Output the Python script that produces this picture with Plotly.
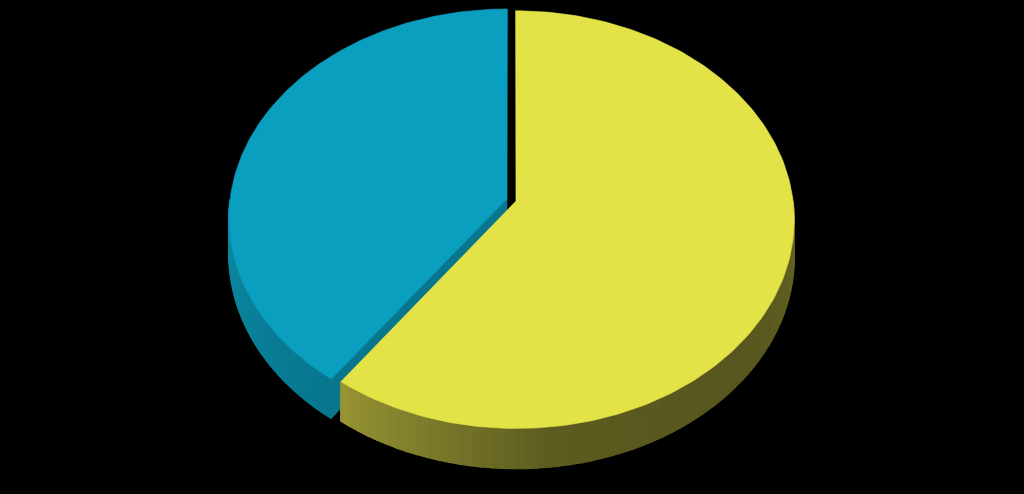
import numpy as np
import plotly.graph_objects as go

# slice values, clockwise from 12 o'clock
values = [60, 40]
top_colors = ["#E3E247", "#0A9EBF"]
# side wall shading (start, middle, end of the visible wall)
wall_colors = [
    [(101, 100, 36), (86, 86, 30), (92, 92, 32), (150, 148, 52)],
    [(8, 118, 142), (10, 128, 152), (12, 138, 163)],
]
radial_face_colors = [None, (8, 118, 140)]

# geometry of the tilted disc (screen pixels)
CX, CY = 511.5, 200.0
R, RY = 277.0, 207.0
K = 0.0887       # perspective strength
DEPTH = 36.5     # thickness
EXPLODE = 0.017  # offset of each slice


def proj(u, v, z=0.0):
    s = 1.0 / (1.0 - K * v)
    return CX + R * u * s, CY + RY * v * s + DEPTH * z * s


def point(theta, off, r=1.0, z=0.0):
    u = r * np.sin(theta) + off[0]
    v = -r * np.cos(theta) + off[1]
    return proj(u, v, z)


def lerp_color(stops, t):
    t = min(max(t, 0.0), 1.0) * (len(stops) - 1)
    i = min(int(t), len(stops) - 2)
    f = t - i
    c = [stops[i][j] * (1 - f) + stops[i + 1][j] * f for j in range(3)]
    return "rgb(%d,%d,%d)" % tuple(round(x) for x in c)


def poly(fig, xs, ys, color, lw=0.6):
    fig.add_trace(go.Scatter(
        x=list(xs) + [xs[0]], y=list(ys) + [ys[0]], mode="lines",
        fill="toself", fillcolor=color, line=dict(color=color, width=lw),
        hoverinfo="skip", showlegend=False,
    ))


fig = go.Figure()

total = sum(values)
bounds = np.cumsum([0] + values) / total * 2 * np.pi
slices = []
for i in range(len(values)):
    a0, a1 = bounds[i], bounds[i + 1]
    mid = (a0 + a1) / 2
    off = (EXPLODE * np.sin(mid), -EXPLODE * np.cos(mid))
    slices.append((a0, a1, off))

# draw back slice (blue) first, then the front one (yellow)
for i in [1, 0]:
    a0, a1, off = slices[i]
    # visible outer wall: front half (pi/2 .. 3pi/2)
    w0, w1 = max(a0, np.pi / 2), min(a1, 3 * np.pi / 2)
    if w1 > w0:
        n = 60
        th = np.linspace(w0, w1, n + 1)
        for j in range(n):
            p = [point(th[j], off), point(th[j + 1], off),
                 point(th[j + 1], off, z=1), point(th[j], off, z=1)]
            col = lerp_color(wall_colors[i], (j + 0.5) / n)
            poly(fig, [q[0] for q in p], [q[1] for q in p], col, lw=1.5)
    # radial cut face at the start angle, visible when it faces the viewer
    if radial_face_colors[i] is not None:
        c = "rgb(%d,%d,%d)" % radial_face_colors[i]
        p = [point(a0, off, r=0), point(a0, off), point(a0, off, z=1), point(a0, off, r=0, z=1)]
        poly(fig, [q[0] for q in p], [q[1] for q in p], c)
    # top face
    th = np.linspace(a0, a1, 200)
    pts = [point(0, off, r=0)] + [point(t, off) for t in th]
    poly(fig, [q[0] for q in pts], [q[1] for q in pts], top_colors[i])

fig.update_layout(
    width=1024, height=494,
    margin=dict(l=0, r=0, t=0, b=0),
    paper_bgcolor="black", plot_bgcolor="black",
    xaxis=dict(range=[0, 1024], visible=False, fixedrange=True),
    yaxis=dict(range=[494, 0], visible=False, fixedrange=True),
    showlegend=False,
)

fig.write_html(
    "out.html",
    config=dict(displayModeBar=False),
    post_script="document.body.style.margin='0';document.body.style.background='black';",
)
